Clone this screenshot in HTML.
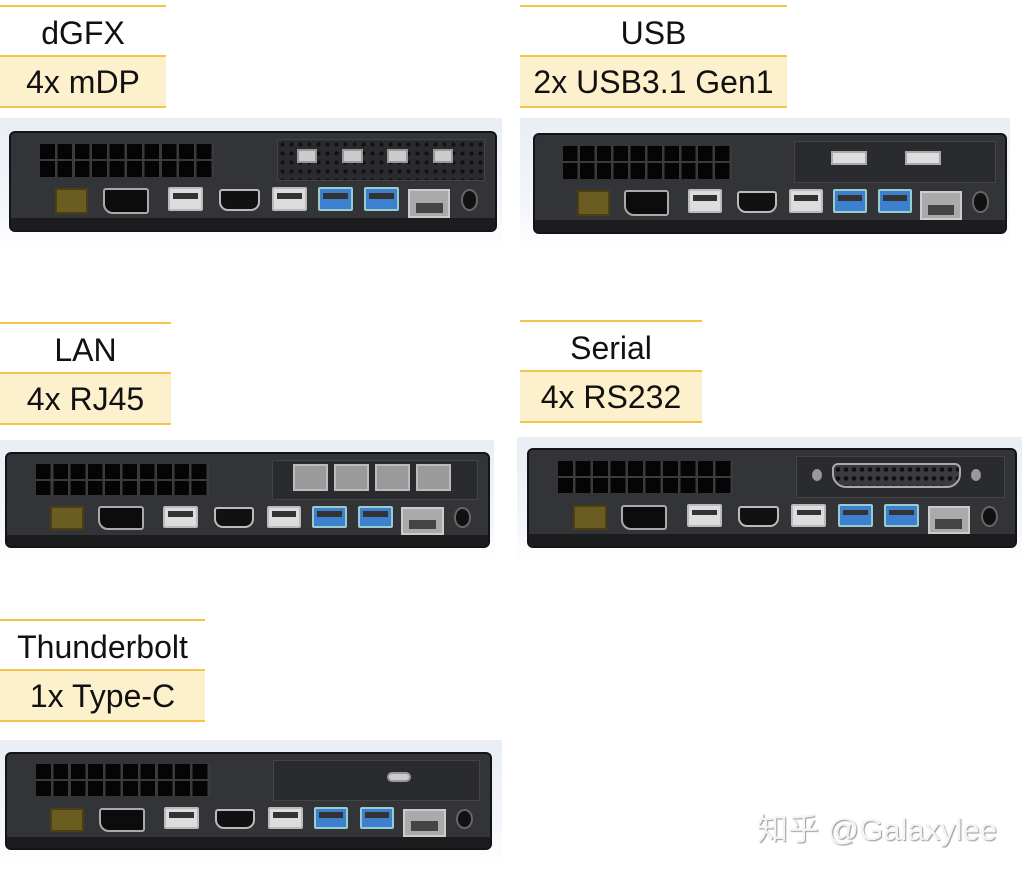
<!DOCTYPE html>
<html><head><meta charset="utf-8"><style>
*{margin:0;padding:0;box-sizing:border-box}
body{width:1024px;height:871px;background:#fff;position:relative;overflow:hidden;font-family:"Liberation Sans",Arial,sans-serif}
.a{position:absolute}
.ln{position:absolute;height:2px;background:#f5c54a}
.t{position:absolute;text-align:center;font-size:32px;color:#111;line-height:50px}
.hl{background:#fdf0cc}
.bg{position:absolute;background:linear-gradient(#e9eef5,#f3f6fa 70%,#fff)}
.dev{position:absolute;background:#333437;border-radius:6px;border:2px solid #141416;overflow:hidden}
.dev>div{position:absolute}
.vent{left:6%;top:11%;width:36%;height:34%;background:repeating-linear-gradient(90deg,#050505 0 8.5%,#3a3b3e 8.5% 10%),#050505}
.vent:after{content:"";position:absolute;left:0;right:0;top:47%;height:6%;background:#3a3b3e}
.exp{left:55%;top:6%;width:43%;height:44%;background:#2a2b2e;border:1px solid #444}
.pw{left:9%;top:57%;width:7%;height:26%;background:#6b5d22;border:2px solid #4a3f12}
.dp{left:19%;top:57%;width:9.5%;height:26%;background:#0c0c0c;border:2px solid #aaa;border-radius:3px 3px 3px 10px}
.u{top:56%;width:7.2%;height:24%;background:#ddd;border:2px solid #bbb;border-radius:2px}
.u:after{content:"";position:absolute;left:10%;right:10%;top:20%;height:30%;background:#333}
.b{background:#3d80d0;border-color:#9cc}
.hd{left:43%;top:58%;width:8.4%;height:22%;background:#111;border:2px solid #bbb;border-radius:3px 3px 9px 9px}
.rj{left:82%;top:58%;width:8.8%;height:30%;background:#aaa;border:2px solid #ccc}
.rj:after{content:"";position:absolute;left:15%;right:15%;top:45%;bottom:15%;background:#444}
.lk{left:93%;top:58%;width:3.5%;height:22%;border-radius:50%;background:#111;border:2px solid #666}
.bot{left:0;right:0;bottom:0;height:12%;background:#1c1c1e}
</style></head><body>

<div class="ln" style="left:0;top:5px;width:166px"></div>
<div class="t" style="left:0;top:8px;width:166px">dGFX</div>
<div class="ln" style="left:0;top:55px;width:166px"></div>
<div class="t hl" style="left:0;top:57px;width:166px;height:50px">4x mDP</div>
<div class="ln" style="left:0;top:106px;width:166px"></div>

<div class="ln" style="left:520px;top:5px;width:267px"></div>
<div class="t" style="left:520px;top:8px;width:267px">USB</div>
<div class="ln" style="left:520px;top:55px;width:267px"></div>
<div class="t hl" style="left:520px;top:57px;width:267px;height:50px">2x USB3.1 Gen1</div>
<div class="ln" style="left:520px;top:106px;width:267px"></div>

<div class="ln" style="left:0;top:322px;width:171px"></div>
<div class="t" style="left:0;top:325px;width:171px">LAN</div>
<div class="ln" style="left:0;top:372px;width:171px"></div>
<div class="t hl" style="left:0;top:374px;width:171px;height:50px">4x RJ45</div>
<div class="ln" style="left:0;top:423px;width:171px"></div>

<div class="ln" style="left:520px;top:320px;width:182px"></div>
<div class="t" style="left:520px;top:323px;width:182px">Serial</div>
<div class="ln" style="left:520px;top:370px;width:182px"></div>
<div class="t hl" style="left:520px;top:372px;width:182px;height:50px">4x RS232</div>
<div class="ln" style="left:520px;top:421px;width:182px"></div>

<div class="ln" style="left:0;top:619px;width:205px"></div>
<div class="t" style="left:0;top:622px;width:205px">Thunderbolt</div>
<div class="ln" style="left:0;top:669px;width:205px"></div>
<div class="t hl" style="left:0;top:671px;width:205px;height:50px">1x Type-C</div>
<div class="ln" style="left:0;top:720px;width:205px"></div>

<div class="bg" style="left:0;top:118px;width:502px;height:132px"></div>
<div class="bg" style="left:520px;top:118px;width:490px;height:130px"></div>
<div class="bg" style="left:0;top:440px;width:494px;height:122px"></div>
<div class="bg" style="left:517px;top:437px;width:505px;height:125px"></div>
<div class="bg" style="left:0;top:740px;width:502px;height:124px"></div>

<div class="dev" style="left:9px;top:131px;width:488px;height:101px">
<div class="vent"></div>
<div class="exp" style="background:radial-gradient(circle,#111 30%,transparent 35%) 0 0/9px 9px,#2a2b2e">
<div class="a" style="left:9%;top:22%;width:10%;height:36%;background:#ccc;border:2px solid #999"></div>
<div class="a" style="left:31%;top:22%;width:10%;height:36%;background:#ccc;border:2px solid #999"></div>
<div class="a" style="left:53%;top:22%;width:10%;height:36%;background:#ccc;border:2px solid #999"></div>
<div class="a" style="left:75%;top:22%;width:10%;height:36%;background:#ccc;border:2px solid #999"></div>
</div>
<div class="pw"></div><div class="dp"></div><div class="u" style="left:32.5%"></div><div class="hd"></div>
<div class="u" style="left:54%"></div><div class="u b" style="left:63.5%"></div><div class="u b" style="left:73%"></div>
<div class="rj"></div><div class="lk"></div><div class="bot"></div></div>

<div class="dev" style="left:533px;top:133px;width:474px;height:101px">
<div class="vent"></div>
<div class="exp">
<div class="a" style="left:18%;top:22%;width:18%;height:36%;background:#ddd;border:2px solid #aaa"></div>
<div class="a" style="left:55%;top:22%;width:18%;height:36%;background:#ddd;border:2px solid #aaa"></div>
</div>
<div class="pw"></div><div class="dp"></div><div class="u" style="left:32.5%"></div><div class="hd"></div>
<div class="u" style="left:54%"></div><div class="u b" style="left:63.5%"></div><div class="u b" style="left:73%"></div>
<div class="rj"></div><div class="lk"></div><div class="bot"></div></div>

<div class="dev" style="left:5px;top:452px;width:485px;height:96px">
<div class="vent"></div>
<div class="exp">
<div class="a" style="left:10%;top:10%;width:17%;height:70%;background:#9a9a9a;border:2px solid #bbb"></div>
<div class="a" style="left:30%;top:10%;width:17%;height:70%;background:#9a9a9a;border:2px solid #bbb"></div>
<div class="a" style="left:50%;top:10%;width:17%;height:70%;background:#9a9a9a;border:2px solid #bbb"></div>
<div class="a" style="left:70%;top:10%;width:17%;height:70%;background:#9a9a9a;border:2px solid #bbb"></div>
</div>
<div class="pw"></div><div class="dp"></div><div class="u" style="left:32.5%"></div><div class="hd"></div>
<div class="u" style="left:54%"></div><div class="u b" style="left:63.5%"></div><div class="u b" style="left:73%"></div>
<div class="rj"></div><div class="lk"></div><div class="bot"></div></div>

<div class="dev" style="left:527px;top:448px;width:490px;height:100px">
<div class="vent"></div>
<div class="exp">
<div class="a" style="left:17%;top:15%;width:62%;height:62%;border-radius:6px 6px 14px 14px;background:radial-gradient(circle,#111 35%,transparent 40%) 0 0/8px 9px,#3a3b3e;border:2px solid #aaa"></div>
<div class="a" style="left:7%;top:30%;width:5%;height:30%;border-radius:50%;background:#999"></div>
<div class="a" style="left:84%;top:30%;width:5%;height:30%;border-radius:50%;background:#999"></div>
</div>
<div class="pw"></div><div class="dp"></div><div class="u" style="left:32.5%"></div><div class="hd"></div>
<div class="u" style="left:54%"></div><div class="u b" style="left:63.5%"></div><div class="u b" style="left:73%"></div>
<div class="rj"></div><div class="lk"></div><div class="bot"></div></div>

<div class="dev" style="left:5px;top:752px;width:487px;height:98px">
<div class="vent"></div>
<div class="exp">
<div class="a" style="left:55%;top:28%;width:12%;height:26%;border-radius:8px;background:#ccc;border:2px solid #999"></div>
</div>
<div class="pw"></div><div class="dp"></div><div class="u" style="left:32.5%"></div><div class="hd"></div>
<div class="u" style="left:54%"></div><div class="u b" style="left:63.5%"></div><div class="u b" style="left:73%"></div>
<div class="rj"></div><div class="lk"></div><div class="bot"></div></div>

<div class="a" style="left:757px;top:804px;font-size:31px;color:#f4f4f4;text-shadow:1px 1px 1px #999;font-family:'Liberation Sans','Noto Sans CJK SC',sans-serif">知乎 @Galaxylee</div>
</body></html>
